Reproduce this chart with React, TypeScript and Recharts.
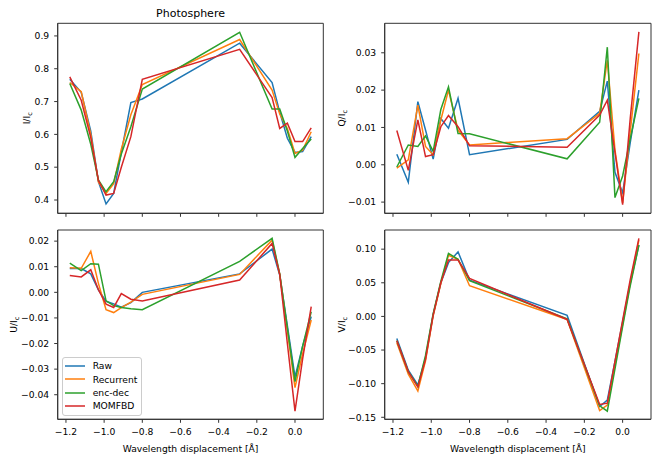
import React from 'react';
import { LineChart, Line, XAxis, YAxis, ReferenceArea, Legend } from 'recharts';

// wavelength samples [Å]
const wavelength = [-1.18, -1.12, -1.07, -1.03, -0.99, -0.95, -0.91, -0.86, -0.8, -0.29, -0.12, -0.08, -0.04, 0.0, 0.04, 0.085];

const iRaw = [0.768, 0.728, 0.61, 0.456, 0.388, 0.42, 0.545, 0.697, 0.708, 0.878, 0.758, 0.668, 0.588, 0.545, 0.548, 0.593];
const iRecurrent = [0.758, 0.73, 0.6, 0.455, 0.42, 0.45, 0.555, 0.66, 0.752, 0.889, 0.735, 0.662, 0.618, 0.542, 0.552, 0.608];
const iEncDec = [0.755, 0.674, 0.57, 0.461, 0.425, 0.456, 0.54, 0.623, 0.738, 0.911, 0.677, 0.677, 0.61, 0.53, 0.557, 0.586];
const iMomfbd = [0.775, 0.704, 0.59, 0.46, 0.415, 0.42, 0.5, 0.593, 0.768, 0.859, 0.712, 0.618, 0.634, 0.578, 0.578, 0.62];

const qRaw = [0.0028, -0.0047, 0.0169, 0.0093, 0.0015, 0.0124, 0.0098, 0.0178, 0.0027, 0.0068, 0.0143, 0.0224, -0.002, -0.0075, 0.006, 0.02];
const qRecurrent = [-0.0009, 0.0013, 0.016, 0.0049, 0.0027, 0.012, 0.02, 0.0093, 0.0053, 0.007, 0.0138, 0.028, 0.004, -0.0102, 0.009, 0.0298];
const qEncDec = [-0.0006, 0.0053, 0.0049, 0.0077, 0.0036, 0.0148, 0.0209, 0.0084, 0.0083, 0.0016, 0.0114, 0.0315, -0.0088, -0.003, 0.007, 0.0178];
const qMomfbd = [0.0092, -0.0015, 0.012, 0.0022, 0.0027, 0.0102, 0.0132, 0.0102, 0.0051, 0.0047, 0.0133, 0.0173, 0.0033, -0.0107, 0.0125, 0.0356];

const uRaw = [0.0093, 0.0093, 0.0072, 0.001, -0.0035, -0.0045, -0.0058, -0.004, 0.0, 0.0072, 0.0169, 0.0068, -0.013, -0.033, -0.021, -0.0095];
const uRecurrent = [0.0096, 0.0094, 0.016, 0.0035, -0.0068, -0.0079, -0.006, -0.0038, -0.0008, 0.007, 0.0204, 0.007, -0.015, -0.0372, -0.024, -0.0108];
const uEncDec = [0.0114, 0.0085, 0.0112, 0.011, -0.0033, -0.0052, -0.0059, -0.0064, -0.0068, 0.0121, 0.0211, 0.0072, -0.014, -0.0349, -0.021, -0.0076];
const uMomfbd = [0.0066, 0.006, 0.0088, 0.001, -0.0046, -0.0059, -0.0005, -0.0027, -0.0034, 0.0048, 0.0191, 0.007, -0.02, -0.0464, -0.026, -0.0056];

const vRaw = [-0.0327, -0.08, -0.102, -0.062, 0.003, 0.05, 0.08, 0.096, 0.054, 0.0015, -0.134, -0.1245, -0.067, -0.008, 0.05, 0.106];
const vRecurrent = [-0.039, -0.086, -0.111, -0.066, 0.001, 0.049, 0.091, 0.085, 0.0456, -0.0045, -0.14, -0.132, -0.072, -0.012, 0.05, 0.1135];
const vEncDec = [-0.036, -0.082, -0.104, -0.058, 0.004, 0.052, 0.0938, 0.085, 0.053, -0.0035, -0.133, -0.141, -0.078, -0.015, 0.046, 0.106];
const vMomfbd = [-0.036, -0.082, -0.105, -0.064, 0.002, 0.05, 0.0838, 0.0838, 0.0565, -0.0045, -0.131, -0.129, -0.067, -0.006, 0.055, 0.116];

const xTicks = [-1.2, -1.0, -0.8, -0.6, -0.4, -0.2, 0.0];
const iTicks = [0.4, 0.5, 0.6, 0.7, 0.8, 0.9];
const qTicks = [-0.01, 0.0, 0.01, 0.02, 0.03];
const uTicks = [-0.04, -0.03, -0.02, -0.01, 0.0, 0.01, 0.02];
const vTicks = [-0.15, -0.1, -0.05, 0.0, 0.05, 0.1];

const seriesNames = ['Raw', 'Recurrent', 'enc-dec', 'MOMFBD'];
const seriesColors = ['#1f77b4', '#ff7f0e', '#2ca02c', '#d62728'];

const xDomain: [number, number] = [-1.2433, 0.1483];

const buildRows = (cols: number[][]) =>
  wavelength.map((x, i) => {
    const row: Record<string, number> = { x };
    cols.forEach((c, k) => {
      row[seriesNames[k]] = c[i];
    });
    return row;
  });

const fmt = (digits: number) => (v: number) => {
  const s = Math.abs(v) < 1e-9 ? (0).toFixed(digits) : v.toFixed(digits);
  return s.replace('-', '\u2212');
};

const FONT = 9.2;
const SPINE = '#333';

// matplotlib-like legend box, kept in plotting order
const LegendBox = () => (
  <div
    style={{
      border: '1px solid #cccccc',
      borderRadius: 3,
      background: 'rgba(255,255,255,0.8)',
      padding: '1px 0 2px 1.7px',
      width: 79.4,
      boxSizing: 'border-box',
    }}
  >
    {seriesNames.map((name, k) => (
      <div key={name} style={{ display: 'flex', alignItems: 'center', height: 13.33 }}>
        <svg width={20} height={4} style={{ marginRight: 7.7, display: 'block' }}>
          <line x1={0} x2={20} y1={2} y2={2} stroke={seriesColors[k]} strokeWidth={1.5} />
        </svg>
        <span style={{ fontSize: FONT, color: '#000', lineHeight: '13.33px', whiteSpace: 'nowrap' }}>{name}</span>
      </div>
    ))}
  </div>
);

type PanelProps = {
  rows: Record<string, number>[];
  yDomain: [number, number];
  yTicks: number[];
  yDigits: number;
  yName: string;
  left: number;
  top: number;
  width: number;
  height: number;
  marginTop: number;
  marginRight: number;
  yAxisWidth: number;
  xAxisHeight: number;
  yLabelX: number;
  bottomRow: boolean;
  withLegend?: boolean;
};

const Panel = (p: PanelProps) => (
  <div style={{ position: 'absolute', left: p.left, top: p.top }}>
    <LineChart
      width={p.width}
      height={p.height}
      data={p.rows}
      margin={{ top: p.marginTop, right: p.marginRight, left: 0, bottom: 0 }}
    >
      <XAxis
        dataKey="x"
        type="number"
        domain={xDomain}
        allowDataOverflow
        ticks={xTicks}
        interval={0}
        height={p.xAxisHeight}
        tickSize={3.5}
        tickMargin={5.5}
        tickFormatter={p.bottomRow ? fmt(1) : () => ''}
        tick={{ fontSize: FONT, fill: '#000' }}
        tickLine={{ stroke: SPINE }}
        axisLine={{ stroke: SPINE }}
        label={
          p.bottomRow
            ? {
                content: (lp: any) => {
                  const vb = lp.viewBox || {};
                  return (
                    <text x={vb.x + vb.width / 2} y={vb.y + 32.4} textAnchor="middle" fontSize={FONT} fill="#000">
                      Wavelength displacement [Å]
                    </text>
                  );
                },
              }
            : undefined
        }
      />
      <YAxis
        type="number"
        domain={p.yDomain}
        allowDataOverflow
        ticks={p.yTicks}
        interval={0}
        width={p.yAxisWidth}
        tickSize={3.5}
        tickMargin={5}
        tickFormatter={fmt(p.yDigits)}
        tick={{ fontSize: FONT, fill: '#000' }}
        tickLine={{ stroke: SPINE }}
        axisLine={{ stroke: SPINE }}
        label={{
          content: (lp: any) => {
            const vb = lp.viewBox || {};
            const cy = vb.y + vb.height / 2;
            return (
              <text
                transform={`translate(${p.yLabelX},${cy}) rotate(-90)`}
                textAnchor="middle"
                dy="0.35em"
                fontSize={FONT}
                fill="#000"
              >
                {p.yName}/I
                <tspan fontSize={6.5} dy={2}>
                  c
                </tspan>
              </text>
            );
          },
        }}
      />
      <ReferenceArea
        x1={xDomain[0]}
        x2={xDomain[1]}
        y1={p.yDomain[0]}
        y2={p.yDomain[1]}
        fill="none"
        fillOpacity={0}
        stroke={SPINE}
        strokeWidth={1}
      />
      {seriesNames.map((name, k) => (
        <Line
          key={name}
          dataKey={name}
          name={name}
          type="linear"
          stroke={seriesColors[k]}
          strokeWidth={1.5}
          dot={false}
          isAnimationActive={false}
        />
      ))}
      {p.withLegend && (
        <Legend
          layout="vertical"
          align="center"
          verticalAlign="middle"
          content={LegendBox}
          wrapperStyle={{ left: 62.3, top: 147.3, width: 79.4 }}
        />
      )}
    </LineChart>
  </div>
);

export default function App() {
  return (
    <div
      style={{
        position: 'absolute',
        left: 0,
        top: 0,
        width: 664,
        height: 465,
        background: '#fff',
        fontFamily: "'DejaVu Sans', sans-serif",
      }}
    >
      <svg width={332} height={24} style={{ position: 'absolute', left: 0, top: 0 }}>
        <text x={190.5} y={17} textAnchor="middle" fontSize={11} fill="#000">
          Photosphere
        </text>
      </svg>
      <Panel
        rows={buildRows([iRaw, iRecurrent, iEncDec, iMomfbd])}
        yDomain={[0.3595, 0.9385]}
        yTicks={iTicks}
        yDigits={1}
        yName="I"
        left={0}
        top={0}
        width={332}
        height={232}
        marginTop={23.3}
        marginRight={8.7}
        yAxisWidth={57.7}
        xAxisHeight={18.7}
        yLabelX={26.7}
        bottomRow={false}
      />
      <Panel
        rows={buildRows([qRaw, qRecurrent, qEncDec, qMomfbd])}
        yDomain={[-0.013, 0.0379]}
        yTicks={qTicks}
        yDigits={2}
        yName="Q"
        left={332}
        top={0}
        width={332}
        height={232}
        marginTop={23.3}
        marginRight={13}
        yAxisWidth={52.7}
        xAxisHeight={18.7}
        yLabelX={9.3}
        bottomRow={false}
      />
      <Panel
        rows={buildRows([uRaw, uRecurrent, uEncDec, uMomfbd])}
        yDomain={[-0.0496, 0.02435]}
        yTicks={uTicks}
        yDigits={2}
        yName="U"
        left={0}
        top={210}
        width={332}
        height={255}
        marginTop={20}
        marginRight={8.7}
        yAxisWidth={57.7}
        xAxisHeight={45.7}
        yLabelX={14}
        bottomRow
        withLegend
      />
      <Panel
        rows={buildRows([vRaw, vRecurrent, vEncDec, vMomfbd])}
        yDomain={[-0.153, 0.1285]}
        yTicks={vTicks}
        yDigits={2}
        yName="V"
        left={332}
        top={210}
        width={332}
        height={255}
        marginTop={20}
        marginRight={13}
        yAxisWidth={52.7}
        xAxisHeight={45.7}
        yLabelX={9.3}
        bottomRow
      />
    </div>
  );
}
